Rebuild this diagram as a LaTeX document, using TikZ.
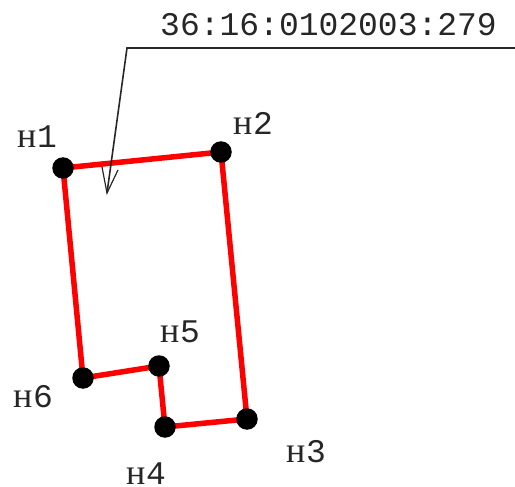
\documentclass[tikz,border=0pt]{standalone}
\usepackage{fontspec}
\setmainfont{Liberation Mono}
\newfontfamily\cyrface{Liberation Serif}
\newcommand{\cyrn}{\makebox[20pt][l]{\cyrface\fontsize{36}{36}\selectfont н}}
\tikzset{
  dot/.style={circle,fill=black,inner sep=0pt,minimum size=21.5pt},
  lab/.style={anchor=base west,inner sep=0pt,font=\fontsize{33}{33}\selectfont,text=black!85},
  edge/.style={draw=red,line width=5.5pt},
  leader/.style={draw=black!85,line width=1.6pt}
}
\begin{document}
\begin{tikzpicture}[x=1pt,y=-1pt]
\useasboundingbox (0,0) rectangle (515,487);
\coordinate (n1) at (63,168);
\coordinate (n2) at (221,152);
\coordinate (n3) at (247,419);
\coordinate (n4) at (165,427);
\coordinate (n5) at (159,366);
\coordinate (n6) at (83,378);
\path[edge] (n1) -- (n2) -- (n3) -- (n4) -- (n5) -- (n6) -- cycle;
\foreach \p in {n1,n2,n3,n4,n5,n6} \node[dot] (d\p) at (\p) {};
\coordinate (lr) at (515,48);
\coordinate (lk) at (127,48);
\coordinate (tip) at (107,193);
\coordinate (wl) at (102,167);
\coordinate (wr) at (118,170);
\path[leader] (lr) -- (lk) -- (tip);
\path[leader,line width=1.2pt] (wl) -- (tip) -- (wr);
\node[lab] (t) at (160,36) {36:16:0102003:279};
\node[lab] (l1) at (17,148) {\cyrn 1};
\node[lab] (l2) at (233,135) {\cyrn 2};
\node[lab] (l3) at (286,462) {\cyrn 3};
\node[lab] (l4) at (126,484) {\cyrn 4};
\node[lab] (l5) at (160,342) {\cyrn 5};
\node[lab] (l6) at (13,407) {\cyrn 6};
\end{tikzpicture}
\end{document}
